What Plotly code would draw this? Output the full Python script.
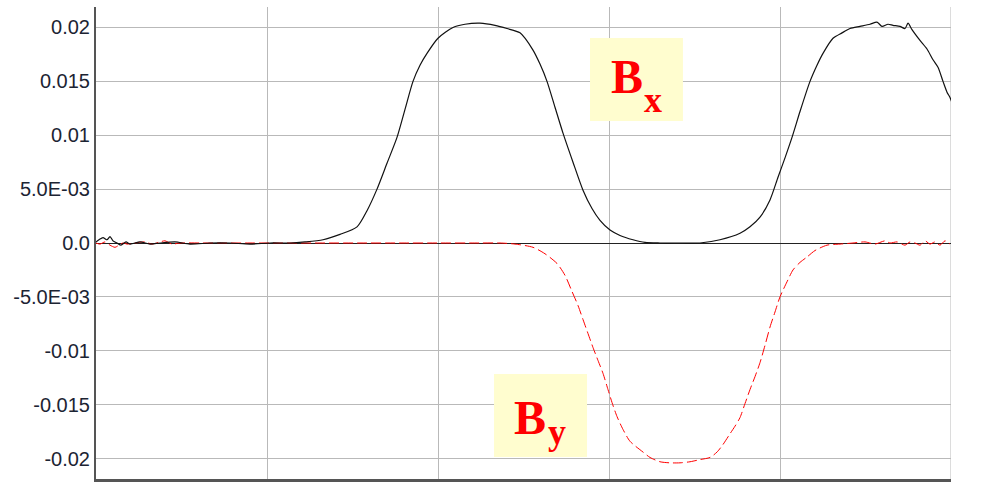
import plotly.graph_objects as go

# Sample positions along the scan (grid line every 171 samples) and field values
bx_pos = [0, 3, 7, 11, 14, 17, 21, 25, 30, 34, 44, 54, 64, 79, 94, 114, 134, 154, 174, 194,
          209, 227, 244, 261, 271, 281, 291, 301, 309, 317, 324, 331, 342, 357, 369, 384, 399,
          411, 424, 437, 444, 451, 459, 467, 477, 487, 496, 504, 514, 524, 537, 549, 564, 584,
          604, 624, 644, 654, 664, 674, 682, 689, 696, 704, 714, 721, 727, 737, 746, 754, 764,
          774, 781, 786, 792, 797, 804, 809, 812, 816, 824, 831, 837, 842, 847, 851, 854, 856]
bx_val = [0.0001, 0.0003, 0.0005, 0.0003, 0.0006, 0.0002, 0.0, -0.0002, 0.0001, -0.0001,
          0.0001, -0.0001, 0.0, 0.0001, -0.0001, 0.0, 0.0, -0.0001, 0.0, 0.0,
          0.0001, 0.0003, 0.0008, 0.0015, 0.0030, 0.0050, 0.0074, 0.0098, 0.0124, 0.0150,
          0.0165, 0.0176, 0.0190, 0.0200, 0.0203, 0.0204, 0.0202, 0.0199, 0.0195, 0.0179,
          0.0166, 0.0150, 0.0126, 0.0102, 0.0075, 0.0049, 0.0032, 0.0021, 0.0012, 0.0007,
          0.0003, 0.00005, 0.0, 0.0, 0.0, 0.0003, 0.0009, 0.0015, 0.0024, 0.0040,
          0.0061, 0.0079, 0.0098, 0.0122, 0.0150, 0.0165, 0.0176, 0.0190, 0.0195, 0.0199,
          0.0201, 0.0203, 0.0205, 0.0201, 0.0203, 0.0202, 0.0201, 0.0199, 0.0204, 0.0198,
          0.0188, 0.0180, 0.0170, 0.0163, 0.0150, 0.0140, 0.0135, 0.0130]

by_pos = [0, 4, 9, 14, 19, 23, 27, 31, 39, 49, 56, 64, 69, 76, 84, 104, 124, 154, 184, 224,
          264, 304, 344, 384, 404, 419, 437, 449, 461, 469, 476, 482, 487, 492, 497, 502, 507,
          512, 516, 521, 527, 534, 547, 554, 564, 574, 584, 594, 604, 614, 621, 627, 634, 639,
          644, 649, 654, 659, 664, 669, 674, 679, 684, 691, 697, 704, 711, 719, 731, 744, 757,
          769, 779, 789, 794, 801, 809, 814, 819, 824, 829, 834, 839, 844, 849, 854]
by_val = [0.0, -0.0001, 0.0001, -0.0002, -0.0004, -0.0002, 0.0, -0.0001, 0.0, 0.0001,
          -0.0001, 0.0001, 0.0002, -0.0001, 0.0, 0.0, 0.0, 0.0, 0.0, 0.0,
          0.0, 0.0, 0.0, 0.0, 0.0, -0.0001, -0.0004, -0.0010, -0.0019, -0.0030,
          -0.0045, -0.0058, -0.0071, -0.0084, -0.0097, -0.0109, -0.0121, -0.0136, -0.0148, -0.0161,
          -0.0173, -0.0184, -0.0194, -0.0199, -0.0203, -0.0204, -0.0204, -0.0203, -0.0201, -0.0199,
          -0.0194, -0.0187, -0.0177, -0.0170, -0.0162, -0.0149, -0.0136, -0.0124, -0.0111, -0.0095,
          -0.0078, -0.0064, -0.0050, -0.0036, -0.0025, -0.0018, -0.0013, -0.0007, -0.0002, -0.0001,
          0.0, 0.0001, -0.0001, 0.0002, 0.0, 0.0001, -0.0002, 0.0001, 0.0, -0.0002,
          0.0002, -0.0001, 0.0001, -0.0002, 0.0002, -0.0001]

y_ticks = [0.02, 0.015, 0.01, 0.005, 0.0, -0.005, -0.01, -0.015, -0.02]
y_labels = ["0.02", "0.015", "0.01", "5.0E-03", "0.0", "-5.0E-03", "-0.01", "-0.015", "-0.02"]
x_grid = [0, 171, 342, 513, 684, 855]

fig = go.Figure()
fig.add_trace(go.Scatter(x=by_pos, y=by_val, mode="lines", name="By",
                         line=dict(color="#ff0000", width=1, dash="10px,4px",
                                   shape="spline", smoothing=0.7)))
fig.add_trace(go.Scatter(x=bx_pos, y=bx_val, mode="lines", name="Bx",
                         line=dict(color="#111111", width=1.2,
                                   shape="spline", smoothing=0.7)))

# grid line on the right edge of the plot area
fig.add_shape(type="line", xref="x", yref="paper", x0=x_grid[-1], x1=x_grid[-1], y0=0, y1=1,
              line=dict(color="#b9b9b9", width=1), layer="below")

# pale yellow label boxes
box_fill = "#fffdcf"
fig.add_shape(type="rect", xref="paper", yref="paper", x0=0.5778, x1=0.6865,
              y0=0.7585, y1=0.9343, fillcolor=box_fill, line=dict(width=0), layer="above")
fig.add_shape(type="rect", xref="paper", yref="paper", x0=0.4655, x1=0.5743,
              y0=0.0466, y1=0.2225, fillcolor=box_fill, line=dict(width=0), layer="above")

big = dict(family="Liberation Serif", size=48, color="#ff0000")
small = dict(family="Liberation Serif", size=36, color="#ff0000")
labels = [
    ("<b>B</b>", 0.6216, 0.852, big),
    ("<b>x</b>", 0.6509, 0.8032, small),
    ("<b>B</b>", 0.5076, 0.1297, big),
    ("<b>y</b>", 0.5392, 0.0987, small),
]
for text, xp, yp, font in labels:
    fig.add_annotation(xref="paper", yref="paper", x=xp, y=yp, xanchor="center",
                       yanchor="middle", text=text, showarrow=False, font=font)

fig.update_layout(
    width=984, height=482,
    margin=dict(l=96, r=33, t=7, b=3),
    paper_bgcolor="white", plot_bgcolor="white",
    showlegend=False,
    xaxis=dict(range=[0, 855], tickvals=x_grid, showticklabels=False, ticks="",
               showgrid=True, gridcolor="#b9b9b9", gridwidth=1, zeroline=False,
               showline=True, linecolor="#555555", linewidth=3),
    yaxis=dict(range=[-0.0219, 0.0219], tickvals=y_ticks, ticktext=y_labels, ticks="",
               showgrid=True, gridcolor="#b9b9b9", gridwidth=1,
               zeroline=True, zerolinecolor="#222222", zerolinewidth=1,
               showline=True, linecolor="#555555", linewidth=2,
               tickfont=dict(family="Liberation Sans", size=20, color="#1c2433")),
)

fig.write_html("out.html")
